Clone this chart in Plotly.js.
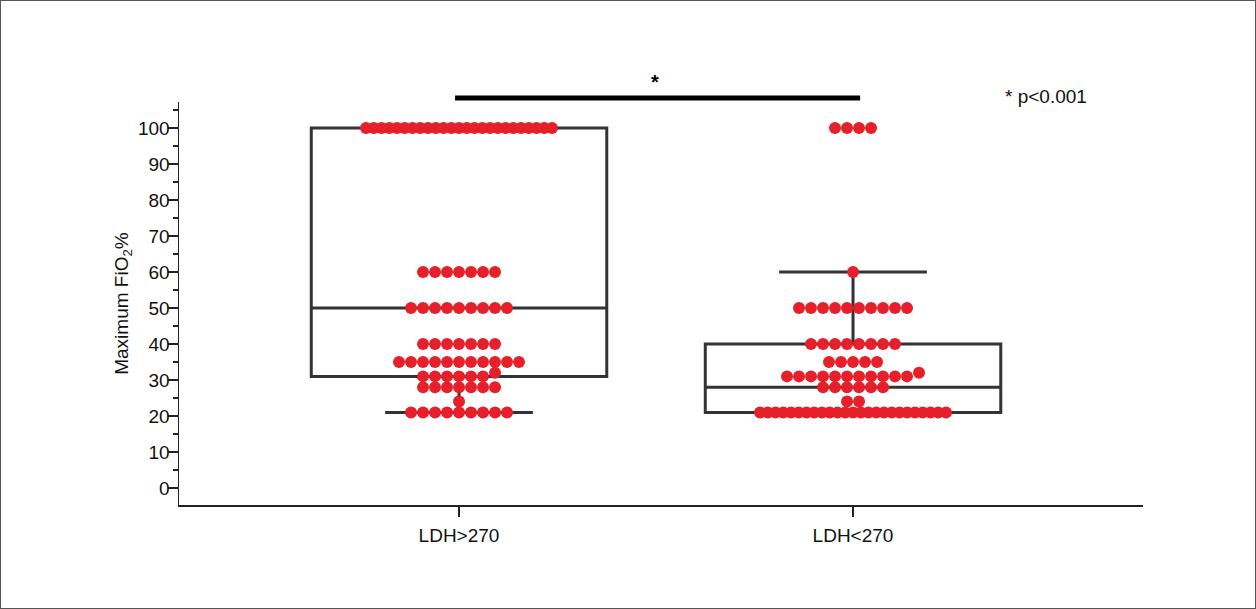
<!DOCTYPE html>
<html>
<head>
<meta charset="utf-8">
<script src="https://cdn.plot.ly/plotly-3.0.1.min.js"></script>
<style>
  html, body { margin: 0; padding: 0; background: #fff; }
  #wrap { position: relative; width: 1256px; height: 609px; }
  #chart { width: 1256px; height: 609px; }
  #frame { position: absolute; left: 0; top: 0; width: 1256px; height: 609px; box-sizing: border-box; border: 1px solid #555; pointer-events: none; }
</style>
</head>
<body>
<div id="wrap"><div id="chart"></div><div id="frame"></div></div>
<script>
// ---- data ----
const categories = ["LDH>270", "LDH<270"];
const yTickVals = [0, 10, 20, 30, 40, 50, 60, 70, 80, 90, 100];

// individual Maximum FiO2 % values per group
const highLDH = [].concat(
  Array(25).fill(100), Array(7).fill(60), Array(9).fill(50), Array(7).fill(40),
  Array(11).fill(35), Array(6).fill(31), [32], Array(7).fill(28), [24], Array(9).fill(21)
);
const lowLDH = [].concat(
  Array(4).fill(100), [60], Array(10).fill(50), Array(8).fill(40),
  Array(5).fill(35), Array(11).fill(31), [32], Array(6).fill(28), Array(2).fill(24), Array(25).fill(21)
);

// box summary statistics
const boxQ1 = [31, 21];
const boxMedian = [50, 28];
const boxQ3 = [100, 40];
const boxLower = [21, 21];
const boxUpper = [100, 60];

const pLabel = "* p<0.001";
const sigMark = "*";

// ---- layout helpers (beeswarm-style horizontal spread) ----
const PX_PER_X = 394;          // pixels per category unit
const DOT_STEP = 12;           // px between dot centres in sparse rows
const MAX_SPAN = 186;          // px max row span
function swarm(values, center) {
  const sorted = values.slice().sort((a, b) => a - b);
  const rows = [];
  sorted.forEach(v => {
    const last = rows[rows.length - 1];
    if (last && v - last[0] <= 1.5) last.push(v); else rows.push([v]);
  });
  const xs = [], ys = [];
  rows.forEach(r => {
    const n = r.length;
    const step = n > 1 ? Math.min(DOT_STEP, MAX_SPAN / (n - 1)) : 0;
    r.forEach((v, i) => {
      xs.push(center + ((i - (n - 1) / 2) * step) / PX_PER_X);
      ys.push(v);
    });
  });
  return {xs, ys};
}
const s0 = swarm(highLDH, 0);
const s1 = swarm(lowLDH, 1);

const lineCol = '#333333';
const dotCol = '#e5202a';

const traces = [
  {
    type: 'box',
    x: [0, 1],
    q1: boxQ1, median: boxMedian, q3: boxQ3,
    lowerfence: boxLower, upperfence: boxUpper,
    width: 0.75, whiskerwidth: 0.5,
    line: {color: lineCol, width: 3},
    fillcolor: 'rgba(0,0,0,0)',
    boxpoints: false, hoverinfo: 'skip', showlegend: false
  },
  {
    type: 'scatter', mode: 'markers',
    x: s0.xs.concat(s1.xs), y: s0.ys.concat(s1.ys),
    marker: {color: dotCol, size: 12, line: {width: 0}},
    hoverinfo: 'y', showlegend: false, cliponaxis: false
  }
];

const font = "'Liberation Sans', Arial, sans-serif";
const layout = {
  width: 1256, height: 609,
  margin: {l: 179, r: 113, t: 102, b: 104},
  paper_bgcolor: '#fff', plot_bgcolor: '#fff',
  font: {family: font, size: 19, color: '#111'},
  showlegend: false,
  xaxis: {
    range: [-0.7107, 1.736],
    tickvals: [0, 1], ticktext: categories,
    ticks: 'outside', ticklen: 10, tickwidth: 1.5, tickcolor: '#222',
    showline: true, linecolor: '#222', linewidth: 1.5,
    showgrid: false, zeroline: false,
    tickfont: {size: 19, family: font, color: '#111'},
    ticklabelstandoff: 3
  },
  yaxis: {
    range: [-4.72, 107.2],
    tickvals: yTickVals,
    ticks: 'outside', ticklen: 10, tickwidth: 1.5, tickcolor: '#222',
    minor: {dtick: 5, tick0: 0, ticks: 'outside', ticklen: 5, tickwidth: 1.5, tickcolor: '#222'},
    showline: true, linecolor: '#222', linewidth: 1.5,
    showgrid: false, zeroline: false,
    tickfont: {size: 19, family: font, color: '#111'},
    ticklabelstandoff: -6,
    title: {text: 'Maximum FiO<sub>2</sub>%', font: {size: 19, family: font, color: '#111'}, standoff: 4}
  },
  shapes: [
    {type: 'line', xref: 'x', yref: 'paper', x0: -0.01, x1: 1.018, y0: 1.0099, y1: 1.0099,
     line: {color: '#000', width: 5}}
  ],
  annotations: [
    {xref: 'x', yref: 'paper', x: 0.497, y: (505 - 82) / 403, text: '<b>' + sigMark + '</b>', showarrow: false,
     font: {size: 20, family: font, color: '#000'}, xanchor: 'center', yanchor: 'middle'},
    {xref: 'paper', yref: 'paper', x: (1046 - 179) / 964, y: (505 - 96) / 403, text: pLabel, showarrow: false,
     font: {size: 19, family: font, color: '#111'}, xanchor: 'center', yanchor: 'middle'}
  ]
};

Plotly.newPlot('chart', traces, layout, {displayModeBar: false, staticPlot: true});
</script>
</body>
</html>
